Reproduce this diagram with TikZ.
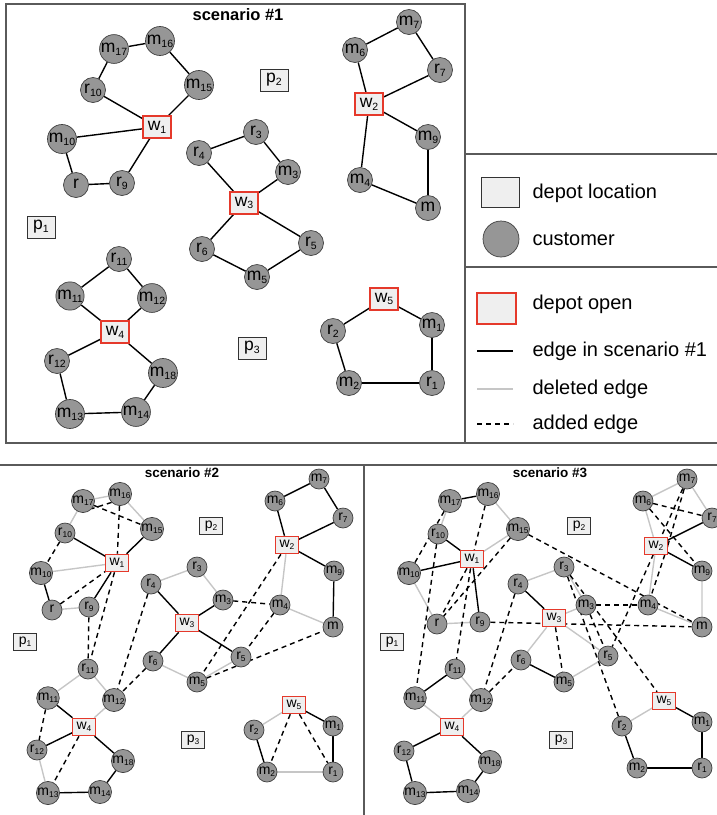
\documentclass[tikz,border=0pt]{standalone}
\usepackage{fontspec}
\setmainfont{Liberation Sans}
\usetikzlibrary{positioning}
\pgfdeclarelayer{background}
\pgfsetlayers{background,main}

\definecolor{custfill}{HTML}{969696}
\definecolor{depotfill}{HTML}{EFEFEF}
\definecolor{openred}{HTML}{E5392B}
\definecolor{deledge}{HTML}{C6C6C6}
\definecolor{framegray}{HTML}{5A5A5A}

% letter with a small index
\newcommand{\nlab}[2]{#1\raisebox{-0.3ex}{\fontsize{10.5}{11}\selectfont #2}}

\begin{document}
\begin{tikzpicture}[x=1pt,y=-1pt,
  cust/.style={circle, draw=black!75, line width=0.7pt, fill=custfill,
    minimum size=25pt, inner sep=0pt, font=\fontsize{17.5}{17.5}\selectfont},
  depot/.style={rectangle, draw=black!80, line width=0.8pt, fill=depotfill,
    minimum width=28pt, minimum height=22pt, inner sep=0pt,
    font=\fontsize{17.5}{17.5}\selectfont},
  opendepot/.style={depot, draw=openred, line width=1.2pt},
  kept/.style={draw=black, line width=1.4pt},
  deleted/.style={draw=deledge, line width=1.4pt},
  added/.style={draw=black, line width=1.4pt, dash pattern=on 5pt off 4pt},
  frame/.style={draw=framegray, line width=1.4pt},
  scentitle/.style={font=\bfseries\fontsize{16.5}{18}\selectfont},
  legtext/.style={anchor=west, font=\fontsize{20}{24}\selectfont}]

\useasboundingbox (0,0) rectangle (717,815);

% frames
\draw[frame] (6,4) rectangle (465,443);
\draw[frame] (465,154) -- (717,154) (465,267) -- (717,267) (465,443) -- (717,443);
\draw[frame] (0,465) -- (717,465) (364,465) -- (364,815);

% titles
\node[scentitle] (title1) at (238,14.5) {scenario \#1};
\node[scentitle, font=\bfseries\fontsize{13.5}{15}\selectfont] (title2) at (182,473) {scenario \#2};
\node[scentitle, font=\bfseries\fontsize{13.5}{15}\selectfont] (title3) at (550,473) {scenario \#3};

% define the customers, depots and locations of scenario #1
\foreach \n/\l/\s/\x/\y in {m17/m/17/114/49, m16/m/16/160/41, r10/r/10/93/90,
    m15/m/15/199/85, m10/m/10/62/139, r/r//76/185, r9/r/9/122/183,
    r4/r/4/199/153, m7/m/7/409/22, m6/m/6/355/50, r7/r/7/440/70,
    r3/r/3/256/132, m3/m/3/288/172, m9/m/9/428/137, m4/m/4/360/180,
    m/m//428/208, r6/r/6/202/249, r11/r/11/119/259, m11/m/11/70/296,
    m12/m/12/152/298, r12/r/12/57/361, m18/m/18/163/373, m13/m/13/70/414,
    m14/m/14/136/412, r5/r/5/311/243, m5/m/5/257/277, m1/m/1/432/325,
    r2/r/2/333/331, m2/m/2/349/383, r1/r/1/432/383}
  \node[cust] (a-\n) at (\x,\y) {\nlab{\l}{\s}};
\foreach \n/\x/\y in {1/157/127, 2/369/104, 3/244/203, 4/115/332, 5/384/299}
  \node[opendepot] (a-w\n) at (\x,\y) {\nlab{w}{\n}};
\foreach \n/\x/\y in {1/41/227, 2/274/80, 3/252/348}
  \node[depot] (a-p\n) at (\x,\y) {\nlab{p}{\n}};

% define the links of scenario #1
\begin{pgfonlayer}{background}
\path[kept] (a-w1) edge (a-r10) (a-r10) edge (a-m17) (a-m17) edge (a-m16)
  (a-m16) edge (a-m15) (a-m15) edge (a-w1)
  (a-w1) edge (a-m10) (a-m10) edge (a-r) (a-r) edge (a-r9) (a-r9) edge (a-w1)
  (a-w2) edge (a-m6) (a-m6) edge (a-m7) (a-m7) edge (a-r7) (a-r7) edge (a-w2)
  (a-w2) edge (a-m9) (a-m9) edge (a-m) (a-m) edge (a-m4) (a-m4) edge (a-w2)
  (a-w3) edge (a-r4) (a-r4) edge (a-r3) (a-r3) edge (a-m3) (a-m3) edge (a-w3)
  (a-w3) edge (a-r6) (a-r6) edge (a-m5) (a-m5) edge (a-r5) (a-r5) edge (a-w3)
  (a-w4) edge (a-m11) (a-m11) edge (a-r11) (a-r11) edge (a-m12) (a-m12) edge (a-w4)
  (a-w4) edge (a-r12) (a-r12) edge (a-m13) (a-m13) edge (a-m14)
  (a-m14) edge (a-m18) (a-m18) edge (a-w4)
  (a-w5) edge (a-r2) (a-r2) edge (a-m2) (a-m2) edge (a-r1) (a-r1) edge (a-m1)
  (a-m1) edge (a-w5);
\end{pgfonlayer}

% legend
\node[depot, minimum width=38pt, minimum height=30pt] (leg-depot) at (500,192) {};
\node[cust, minimum size=36pt] (leg-cust) at (501,239) {};
\node[opendepot, minimum width=39pt, minimum height=31pt] (leg-open) at (496.5,308.5) {};
\coordinate (leg-k1) at (477,351); \coordinate (leg-k2) at (513,351);
\coordinate (leg-d1) at (477,389); \coordinate (leg-d2) at (513,389);
\coordinate (leg-a1) at (477,424); \coordinate (leg-a2) at (513,424);
\draw[kept] (leg-k1) -- (leg-k2);
\draw[deleted] (leg-d1) -- (leg-d2);
\draw[added] (leg-a1) -- (leg-a2);
\node[legtext] (txt-depot) at (529,193) {depot location};
\node[legtext] (txt-cust) at (529,239) {customer};
\node[legtext] (txt-open) at (529,304) {depot open};
\node[legtext] (txt-kept) at (529,351) {edge in scenario \#1};
\node[legtext] (txt-del) at (529,389) {deleted edge};
\node[legtext] (txt-add) at (529,424) {added edge};

% scenario #2
\begin{scope}[every node/.append style={scale=0.8}]
\foreach \n/\l/\s/\x/\y in {m17/m/17/83/501, m16/m/16/120/494, r10/r/10/65/533,
    m15/m/15/152/529, m10/m/10/41/573, r/r//52/610, r9/r/9/89/607,
    r4/r/4/151/584, m7/m/7/319/479, m6/m/6/275/501, r7/r/7/343/518,
    r3/r/3/197/567, m3/m/3/223/600, m9/m/9/334/571, m4/m/4/280/605,
    m/m//333/627, r6/r/6/153/661, r11/r/11/88/669, m11/m/11/48/698,
    m12/m/12/114/700, r12/r/12/37/750, m18/m/18/123/761, m13/m/13/48/793,
    m14/m/14/100/792, r5/r/5/241/657, m5/m/5/197/682, m1/m/1/333/726,
    r2/r/2/254/730, m2/m/2/267/772, r1/r/1/333/772}
  \node[cust] (b-\n) at (\x,\y) {\nlab{\l}{\s}};
\foreach \n/\x/\y in {1/117/563, 2/287/545, 3/187/623, 4/84/727, 5/294/705}
  \node[opendepot] (b-w\n) at (\x,\y) {\nlab{w}{\n}};
\foreach \n/\x/\y in {1/25/642, 2/211/526, 3/193/740}
  \node[depot] (b-p\n) at (\x,\y) {\nlab{p}{\n}};
\end{scope}

\begin{pgfonlayer}{background}
\path[deleted] (b-m17) edge (b-m16) (b-m16) edge (b-m15) (b-m17) edge (b-r10)
  (b-m10) edge (b-w1) (b-r) edge (b-r9) (b-r4) edge (b-r3) (b-r3) edge (b-m3)
  (b-r6) edge (b-m5) (b-m5) edge (b-r5) (b-w2) edge (b-m4) (b-m4) edge (b-m)
  (b-r11) edge (b-m11) (b-r11) edge (b-m12) (b-m12) edge (b-w4)
  (b-r12) edge (b-m13) (b-w5) edge (b-r2) (b-m2) edge (b-r1);
\path[kept] (b-r10) edge (b-w1) (b-m15) edge (b-w1) (b-m10) edge (b-r)
  (b-r9) edge (b-w1) (b-r4) edge (b-w3) (b-m3) edge (b-w3) (b-r6) edge (b-w3)
  (b-r5) edge (b-w3) (b-m6) edge (b-m7) (b-m7) edge (b-r7) (b-m6) edge (b-w2)
  (b-r7) edge (b-w2) (b-w2) edge (b-m9) (b-m9) edge (b-m)
  (b-m11) edge (b-w4) (b-w4) edge (b-r12) (b-m13) edge (b-m14)
  (b-m14) edge (b-m18) (b-m18) edge (b-w4)
  (b-r2) edge (b-m2) (b-r1) edge (b-m1) (b-m1) edge (b-w5);
\path[added] (b-m16.225) edge (b-m17.320) (b-m17) edge (b-m15) (b-m16) edge (b-w1)
  (b-r10) edge (b-m10) (b-r) edge (b-w1) (b-r9) edge (b-r11) (b-w1) edge (b-r11)
  (b-r4) edge (b-m12) (b-r6) edge (b-m12) (b-m3) edge (b-m4) (b-w2) edge (b-m5)
  (b-m4) edge (b-r5) (b-m5) edge (b-m) (b-m11) edge (b-r12) (b-w4) edge (b-m13)
  (b-w5) edge (b-m2) (b-w5) edge (b-r1);
\end{pgfonlayer}

% scenario #3
\begin{scope}[every node/.append style={scale=0.8}]
\foreach \n/\l/\s/\x/\y in {m17/m/17/450/501, m16/m/16/488/494, r10/r/10/438/534,
    m15/m/15/518/529, m10/m/10/409/573, r/r//437/624, r9/r/9/480/622,
    r4/r/4/518/584, m7/m/7/687/479, m6/m/6/643/501, r7/r/7/712/518,
    r3/r/3/564/567, m3/m/3/586/605, m9/m/9/702/571, m4/m/4/648/605,
    m/m//702/627, r6/r/6/521/660, r11/r/11/455/669, m11/m/11/415/698,
    m12/m/12/481/700, r12/r/12/404/751, m18/m/18/490/762, m13/m/13/415/793,
    m14/m/14/468/791, r5/r/5/608/656, m5/m/5/564/682, m1/m/1/702/722,
    r2/r/2/622/726, m2/m/2/637/768, r1/r/1/702/768}
  \node[cust] (c-\n) at (\x,\y) {\nlab{\l}{\s}};
\foreach \n/\x/\y in {1/472/559, 2/656/546, 3/554/618, 4/452/727, 5/664/701}
  \node[opendepot] (c-w\n) at (\x,\y) {\nlab{w}{\n}};
\foreach \n/\x/\y in {1/392/642, 2/579/526, 3/561/740}
  \node[depot] (c-p\n) at (\x,\y) {\nlab{p}{\n}};
\end{scope}

\begin{pgfonlayer}{background}
\path[deleted] (c-m16) edge (c-m15) (c-m17) edge (c-r10) (c-m15) edge (c-w1)
  (c-m10) edge (c-r) (c-r) edge (c-r9) (c-m6) edge (c-w2) (c-m6) edge (c-m7)
  (c-m7) edge (c-r7) (c-m9) edge (c-m) (c-m) edge (c-m4) (c-m4) edge (c-w2)
  (c-r4) edge (c-r3) (c-r3) edge (c-m3) (c-m3) edge (c-w3) (c-w3) edge (c-r6)
  (c-w3) edge (c-r5) (c-m5) edge (c-r5) (c-r11) edge (c-m12) (c-m11) edge (c-w4)
  (c-m12) edge (c-w4) (c-w5) edge (c-r2);
\path[kept] (c-m17) edge (c-m16) (c-r10) edge (c-w1) (c-m10) edge (c-w1)
  (c-r9) edge (c-w1) (c-r7) edge (c-w2) (c-w2) edge (c-m9) (c-r4) edge (c-w3)
  (c-r6) edge (c-m5) (c-r11) edge (c-m11) (c-w4) edge (c-r12) (c-r12) edge (c-m13)
  (c-m13) edge (c-m14) (c-m14) edge (c-m18) (c-m18) edge (c-w4)
  (c-r2) edge (c-m2) (c-m2) edge (c-r1) (c-r1) edge (c-m1) (c-m1) edge (c-w5);
\path[added] (c-m17) edge (c-m10) (c-m16) edge (c-w1) (c-r10) edge (c-m11)
  (c-w1) edge (c-r) (c-m15) edge (c-r) (c-w1) edge (c-r11) (c-r9) edge (c-m)
  (c-m15) edge (c-m) (c-r4) edge (c-m12) (c-m12) edge (c-r6) (c-w3) edge (c-m5)
  (c-m6) edge (c-r7) (c-m6) edge (c-m9) (c-m7) edge (c-w2.east)
  (c-w2.east) edge (c-m4) (c-m7) edge (c-r5) (c-m3) edge (c-r5) (c-m3) edge (c-m4)
  (c-r3) edge (c-r2) (c-r3) edge (c-w5);
\end{pgfonlayer}

\end{tikzpicture}
\end{document}
